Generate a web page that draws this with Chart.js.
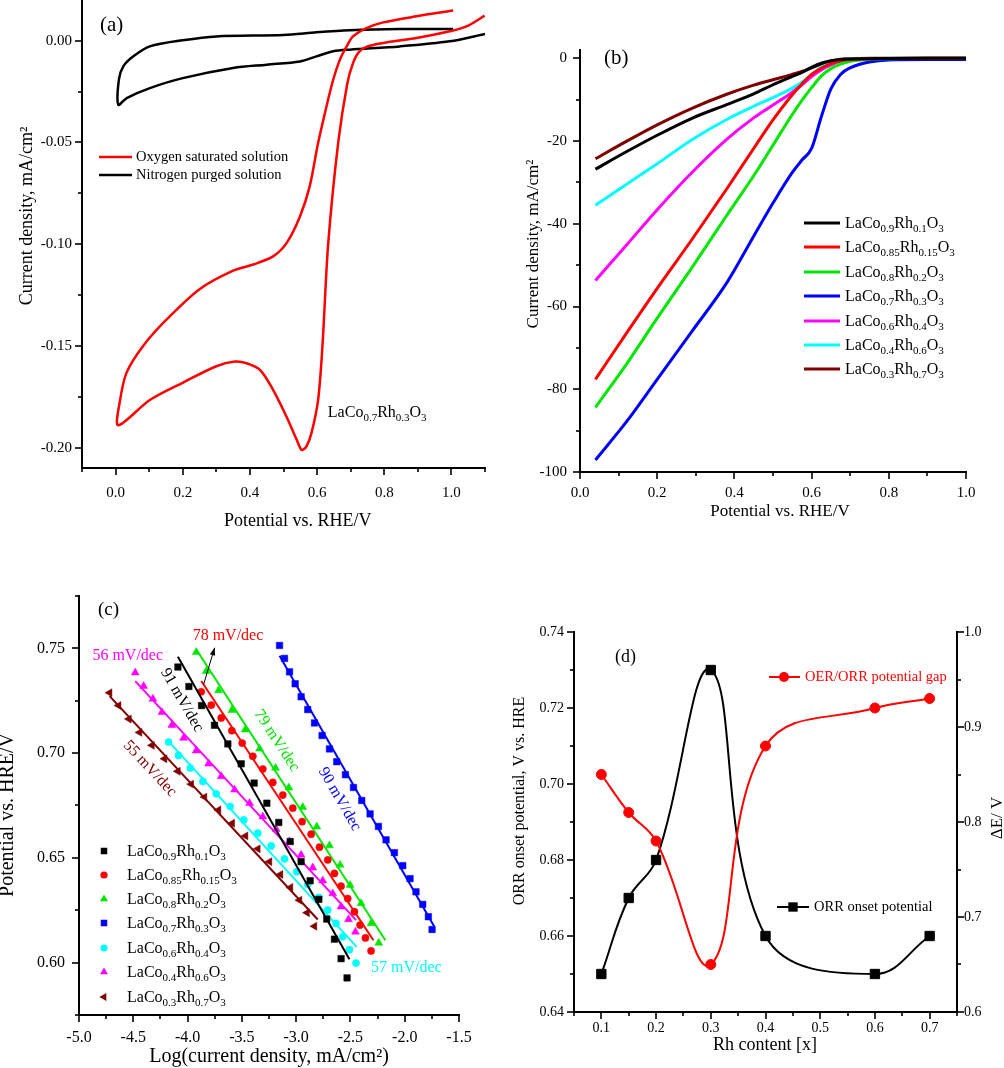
<!DOCTYPE html>
<html><head><meta charset="utf-8">
<script src="https://cdn.jsdelivr.net/npm/chart.js@4.4.1/dist/chart.umd.min.js"></script>
<style>
html,body{margin:0;padding:0;background:#fff;}
#wrap{position:relative;width:1004px;height:1068px;overflow:hidden;background:#fff;}
canvas{position:absolute;}
</style></head><body>
<div id="wrap">
<canvas id="ca" width="502" height="530" style="left:0;top:0"></canvas>
<canvas id="cb" width="502" height="530" style="left:502px;top:0"></canvas>
<canvas id="cc" width="502" height="538" style="left:0;top:530px"></canvas>
<canvas id="cd" width="502" height="538" style="left:502px;top:530px"></canvas>
</div>
<script>
// ---------------- DATA ----------------
// (a) cyclic voltammograms
const aO2Potential = [1.005,0.896,0.797,0.747,0.707,0.688,0.668,0.648,0.628,0.603,0.578,0.549,0.509,0.469,0.41,0.35,0.251,0.152,0.082,0.033,0.013,0.008,
  0.102,0.201,0.30,0.355,0.39,0.43,0.469,0.509,0.539,0.554,0.568,0.583,0.603,0.616,0.633,0.663,0.69,0.707,0.725,0.75,0.797,0.896,0.995,1.045,1.099];
const aO2Current = [0.0148,0.012,0.009,0.0062,0.0021,-0.0028,-0.0093,-0.0192,-0.0323,-0.0503,-0.0716,-0.0864,-0.0995,-0.106,-0.110,-0.113,-0.122,-0.137,-0.150,-0.163,-0.177,-0.189,
  -0.1766,-0.168,-0.160,-0.1577,-0.1585,-0.1618,-0.1716,-0.1848,-0.196,-0.2011,-0.1995,-0.193,-0.1766,-0.15,-0.10,-0.05,-0.021,-0.011,-0.0055,-0.0028,-0.0011,0.0013,0.0046,0.007,0.0123];
const aN2Potential = [1.005,0.846,0.697,0.598,0.5,0.3,0.2,0.102,0.053,0.023,0.010,0.008,0.033,0.102,0.2,0.35,0.45,0.549,0.598,0.648,0.697,0.846,0.995,1.1];
const aN2Current = [0.0057,0.0057,0.0051,0.0041,0.0028,0.0021,0.0002,-0.0028,-0.0077,-0.0126,-0.019,-0.0315,-0.0282,-0.0233,-0.0184,-0.0134,-0.0118,-0.0102,-0.0077,-0.0052,-0.0044,-0.0028,-0.0003,0.0033];
const aLegend = ['Oxygen saturated solution','Nitrogen purged solution'];
const aSample = 'LaCo0.7Rh0.3O3';

// series shared by (b) and (c)
const seriesLabels = ['LaCo0.9Rh0.1O3','LaCo0.85Rh0.15O3','LaCo0.8Rh0.2O3','LaCo0.7Rh0.3O3','LaCo0.6Rh0.4O3','LaCo0.4Rh0.6O3','LaCo0.3Rh0.7O3'];

// (b) LSV curves
const bPotential = [0.04,0.12,0.20,0.29,0.38,0.45,0.50,0.55,0.575,0.60,0.625,0.65,0.675,0.70,0.75,0.80,0.90,1.00];
const bJ09  = [-26.8,-22.6,-18.6,-14.5,-11.2,-8.6,-6.4,-4.4,-3.4,-2.2,-1.2,-0.6,-0.3,-0.15,-0.1,-0.05,0,0];
const bJ085 = [-77.6,-66.5,-55.6,-43.8,-31.6,-21.8,-14.9,-8.8,-6.2,-3.9,-2.4,-1.3,-0.6,-0.3,-0.1,-0.05,0,0];
const bJ08  = [-84.4,-74.0,-62.8,-50.6,-38.0,-28.4,-21.0,-13.6,-10.2,-7.1,-4.3,-2.5,-1.4,-0.7,-0.2,-0.1,0,0];
const bJ07  = [-97.1,-87.9,-77.6,-66.0,-54.3,-43.0,-35.0,-27.6,-24.6,-21.8,-14.2,-7.4,-3.9,-2.3,-0.9,-0.4,-0.3,-0.3];
const bJ06  = [-53.7,-45.2,-36.6,-27.6,-19.6,-14.4,-11.3,-8.2,-6.4,-4.4,-2.8,-1.6,-0.7,-0.3,-0.1,-0.05,0,0];
const bJ04  = [-35.5,-30.5,-25.5,-19.7,-14.8,-11.6,-9.5,-7.2,-5.8,-3.9,-2.2,-1.1,-0.5,-0.2,-0.1,0,0,0];
const bJ03  = [-24.3,-20.1,-16.1,-12.1,-8.7,-6.5,-5.2,-3.9,-3.2,-2.3,-1.4,-0.7,-0.25,-0.1,0,0,0,0];

// (c) Tafel points
const c09X  = [-4.089,-3.988,-3.871,-3.752,-3.629,-3.506,-3.387,-3.270,-3.160,-3.055,-2.954,-2.871,-2.791,-2.718,-2.647,-2.586,-2.531];
const c09Y  = [0.7411,0.7318,0.7227,0.7133,0.7044,0.6949,0.6857,0.6761,0.6669,0.6578,0.6482,0.6391,0.6302,0.6208,0.6112,0.6019,0.5927];
const c085X = [-3.874,-3.782,-3.690,-3.592,-3.497,-3.399,-3.307,-3.215,-3.123,-3.031,-2.945,-2.862,-2.785,-2.709,-2.647,-2.586,-2.525,-2.463,-2.411,-2.362,-2.310];
const c085Y = [0.7293,0.7229,0.7168,0.7107,0.7048,0.6985,0.6924,0.6860,0.6800,0.6737,0.6673,0.6613,0.6551,0.6490,0.6426,0.6365,0.6306,0.6243,0.6179,0.6118,0.6056];
const c08X  = [-3.920,-3.828,-3.715,-3.592,-3.469,-3.337,-3.190,-3.067,-2.939,-2.810,-2.693,-2.595,-2.503,-2.402,-2.310,-2.239];
const c08Y  = [0.7482,0.7391,0.7299,0.7205,0.7112,0.7021,0.6929,0.6835,0.6742,0.6649,0.6559,0.6466,0.6370,0.6283,0.6187,0.6094];
const c07X  = [-3.153,-3.107,-3.061,-3.009,-2.954,-2.893,-2.831,-2.761,-2.693,-2.626,-2.546,-2.472,-2.396,-2.319,-2.242,-2.172,-2.095,-2.018,-1.951,-1.896,-1.834,-1.782,-1.748];
const c07Y  = [0.7514,0.7452,0.7388,0.7331,0.7269,0.7208,0.7144,0.7084,0.7020,0.6959,0.6897,0.6836,0.6774,0.6710,0.6650,0.6586,0.6525,0.6463,0.6401,0.6338,0.6278,0.6219,0.6158];
const c06X  = [-4.175,-4.083,-3.975,-3.859,-3.736,-3.607,-3.482,-3.353,-3.230,-3.107,-2.994,-2.893,-2.791,-2.709,-2.632,-2.571,-2.509,-2.448];
const c06Y  = [0.7053,0.6989,0.6929,0.6865,0.6806,0.6745,0.6681,0.6618,0.6557,0.6495,0.6434,0.6373,0.6311,0.6251,0.6187,0.6123,0.6062,0.5998];
const c04X  = [-4.482,-4.405,-4.319,-4.236,-4.144,-4.037,-3.920,-3.807,-3.690,-3.567,-3.429,-3.307,-3.184,-3.061,-2.954,-2.847,-2.755,-2.663,-2.586,-2.518,-2.454];
const c04Y  = [0.7384,0.7320,0.7259,0.7195,0.7133,0.7072,0.7012,0.6949,0.6889,0.6825,0.6761,0.6697,0.6637,0.6578,0.6514,0.6453,0.6391,0.6330,0.6267,0.6206,0.6147];
const c03X  = [-4.718,-4.635,-4.540,-4.442,-4.328,-4.212,-4.089,-3.966,-3.844,-3.715,-3.589,-3.466,-3.353,-3.245,-3.144,-3.052,-2.969,-2.899,-2.831];
const c03Y  = [0.7288,0.7227,0.7163,0.7099,0.7037,0.6973,0.6913,0.6852,0.6790,0.6729,0.6665,0.6605,0.6543,0.6482,0.6421,0.6359,0.6298,0.6238,0.6174];
// (c) linear fits: [start, end]
const cFitX = [[-4.089,-2.509],[-3.874,-2.288],[-3.920,-2.178],[-3.153,-1.727],[-4.175,-2.442],[-4.482,-2.448],[-4.718,-2.801]];
const cFitY = [[0.7460,0.6016],[0.7344,0.6107],[0.7495,0.6107],[0.7465,0.6171],[0.7056,0.6075],[0.7344,0.6203],[0.7272,0.6206]];
const cSlopes = ['91 mV/dec','78 mV/dec','79 mV/dec','90 mV/dec','57 mV/dec','56 mV/dec','55 mV/dec'];

// (d)
const dRh = [0.1,0.15,0.2,0.3,0.4,0.6,0.7];
const dOnset = [0.65,0.67,0.68,0.73,0.66,0.65,0.66];
const dGap = [0.85,0.81,0.78,0.65,0.88,0.92,0.93];
const dLegend = ['OER/ORR potential gap','ORR onset potential'];

// ---------------- STYLES ----------------
const SERIF = '"Liberation Serif", "Times New Roman", serif';
const bColors = ['#000000','#ff0000','#00e600','#0000ff','#ff00ff','#00ffff','#800000'];
const cColors = ['#000000','#ff0000','#00e600','#0000ff','#00ffff','#ff00ff','#800000'];
const cStyles = [['rect',4.6,0],['circle',3.6,0],['triangle',4.6,0],['rect',4.6,0],['circle',3.6,0],['triangle',4.6,0],['triangle',4.6,-90]];

Chart.defaults.font.family = SERIF;
Chart.defaults.color = '#000';

const isMult = (v, m) => Math.abs(v / m - Math.round(v / m)) < 1e-6;
const zip = (xs, ys) => xs.map((x, i) => ({x: x, y: ys[i]}));

function axis(o) {
  return {
    type: 'linear', position: o.pos, min: o.min, max: o.max,
    grid: {display: false, drawTicks: false},
    border: {display: true, color: '#000', width: 2},
    ticks: {stepSize: o.step, autoSkip: false, includeBounds: false, maxRotation: 0, minRotation: 0,
      padding: o.pad, color: '#000', font: {size: o.fs, family: SERIF},
      callback: v => isMult(v, o.major) ? (o.dec === 0 ? String(Math.round(v)) : v.toFixed(o.dec)) : ''},
    title: {display: false},
    afterFit: s => {
      if (s.isHorizontal()) { s.height = o.size; s.paddingLeft = 0; s.paddingRight = 0; }
      else { s.width = o.size; s.paddingTop = 0; s.paddingBottom = 0; }
    }
  };
}

const outTicks = {
  id: 'outTicks',
  afterDraw(chart) {
    const ctx = chart.ctx, a = chart.chartArea;
    ctx.save(); ctx.strokeStyle = '#000'; ctx.lineWidth = 1.6;
    Object.values(chart.scales).forEach(s => {
      s.ticks.forEach(t => {
        const p = Math.round(s.getPixelForValue(t.value));
        const len = (t.label !== '' && t.label != null) ? 7 : 4;
        ctx.beginPath();
        if (s.position === 'left') { ctx.moveTo(a.left, p); ctx.lineTo(a.left - len, p); }
        else if (s.position === 'right') { ctx.moveTo(a.right, p); ctx.lineTo(a.right + len, p); }
        else { ctx.moveTo(p, a.bottom); ctx.lineTo(p, a.bottom + len); }
        ctx.stroke();
      });
    });
    ctx.restore();
  }
};

function txt(ctx, s, x, y, o) {
  o = o || {};
  ctx.save();
  ctx.font = (o.size || 16) + 'px ' + SERIF;
  ctx.fillStyle = o.color || '#000';
  ctx.textAlign = o.align || 'left';
  ctx.textBaseline = o.base || 'middle';
  ctx.translate(x, y);
  if (o.rot) ctx.rotate(o.rot * Math.PI / 180);
  ctx.fillText(s, 0, 0);
  ctx.restore();
}
function formula(ctx, s, x, y, size, color, align) {
  const parts = [];
  s.replace(/([A-Za-z]+)([0-9.]*)/g, (m, a, b) => { parts.push([a, 0]); if (b) parts.push([b, 1]); return m; });
  const fMain = size + 'px ' + SERIF, fSub = Math.round(size * 0.66) + 'px ' + SERIF;
  ctx.save();
  ctx.fillStyle = color; ctx.textBaseline = 'alphabetic'; ctx.textAlign = 'left';
  let w = 0;
  parts.forEach(p => { ctx.font = p[1] ? fSub : fMain; w += ctx.measureText(p[0]).width; });
  let cx = align === 'center' ? x - w / 2 : x;
  const base = y + size * 0.33;
  parts.forEach(p => { ctx.font = p[1] ? fSub : fMain; ctx.fillText(p[0], cx, p[1] ? base + size * 0.24 : base); cx += ctx.measureText(p[0]).width; });
  ctx.restore();
}
function marker(ctx, style, x, y, r, color, rot) {
  ctx.save(); ctx.fillStyle = color; ctx.beginPath();
  if (style === 'rect') { const h = r * Math.SQRT1_2; ctx.rect(x - h, y - h, 2 * h, 2 * h); }
  else if (style === 'circle') ctx.arc(x, y, r, 0, 2 * Math.PI);
  else { let a = (rot || 0) * Math.PI / 180; for (let i = 0; i < 3; i++) { const px = x + Math.sin(a) * r, py = y - Math.cos(a) * r; if (i) ctx.lineTo(px, py); else ctx.moveTo(px, py); a += 2 * Math.PI / 3; } ctx.closePath(); }
  ctx.fill(); ctx.restore();
}
function hline(ctx, x0, x1, y, color, w) {
  ctx.save(); ctx.strokeStyle = color; ctx.lineWidth = w; ctx.beginPath(); ctx.moveTo(x0, y); ctx.lineTo(x1, y); ctx.stroke(); ctx.restore();
}
const baseOpts = (pad) => ({
  responsive: false, animation: false, events: [], devicePixelRatio: 1,
  layout: {padding: pad},
  plugins: {legend: {display: false}, tooltip: {enabled: false}}
});

// ---------------- PANEL (a) ----------------
new Chart(document.getElementById('ca'), {
  type: 'scatter',
  data: {datasets: [
    {data: zip(aO2Potential, aO2Current), showLine: true, borderColor: '#ff0000', borderWidth: 2.5, pointRadius: 0, tension: 0.3},
    {data: zip(aN2Potential, aN2Current), showLine: true, borderColor: '#000000', borderWidth: 2.5, pointRadius: 0, tension: 0.3}
  ]},
  options: Object.assign(baseOpts({left: 0, right: 17, top: 0, bottom: 0}), {
    scales: {
      x: axis({pos: 'bottom', min: -0.1, max: 1.1, step: 0.1, major: 0.2, dec: 1, pad: 16, fs: 15, size: 62}),
      y: axis({pos: 'left', min: -0.21, max: 0.02, step: 0.025, major: 0.05, dec: 2, pad: 10, fs: 15, size: 82})
    }
  }),
  plugins: [outTicks, {id: 'ovA', afterDraw(chart) {
    const ctx = chart.ctx, sx = chart.scales.x, sy = chart.scales.y;
    txt(ctx, '(a)', 100, 25, {size: 21});
    hline(ctx, 99, 132, 157, '#ff0000', 2.5);
    hline(ctx, 99, 132, 175, '#000000', 2.5);
    txt(ctx, aLegend[0], 136, 157, {size: 14.5});
    txt(ctx, aLegend[1], 136, 175, {size: 14.5});
    formula(ctx, aSample, sx.getPixelForValue(0.632), sy.getPixelForValue(-0.1825), 16, '#000', 'left');
    txt(ctx, 'Current density, mA/cm\u00b2', 27, 216, {size: 18, align: 'center', rot: -90});
    txt(ctx, 'Potential vs. RHE/V', 297.7, 521, {size: 18, align: 'center'});
  }}]
});

// ---------------- PANEL (b) ----------------
const bSeries = [bJ09, bJ085, bJ08, bJ07, bJ06, bJ04, bJ03];
new Chart(document.getElementById('cb'), {
  type: 'scatter',
  data: {datasets: bSeries.map((s, i) => ({
    data: zip(bPotential, s), showLine: true, borderColor: bColors[i], borderWidth: 3, pointRadius: 0,
    cubicInterpolationMode: 'monotone'
  }))},
  options: Object.assign(baseOpts({left: 0, right: 38, top: 50, bottom: 0}), {
    scales: {
      x: axis({pos: 'bottom', min: 0, max: 1, step: 0.1, major: 0.2, dec: 1, pad: 12, fs: 15, size: 58}),
      y: axis({pos: 'left', min: -100, max: 2, step: 10, major: 20, dec: 0, pad: 13, fs: 15, size: 78})
    }
  }),
  plugins: [outTicks, {id: 'ovB', afterDraw(chart) {
    const ctx = chart.ctx;
    txt(ctx, '(b)', 102, 58, {size: 21});
    const rows = [223, 247, 272, 296, 321, 345, 369];
    seriesLabels.forEach((l, i) => {
      hline(ctx, 302, 338, rows[i], bColors[i], 3);
      formula(ctx, l, 343, rows[i], 16, '#000', 'left');
    });
    txt(ctx, 'Current density, mA/cm\u00b2', 31.5, 244, {size: 17, align: 'center', rot: -90});
    txt(ctx, 'Potential vs. RHE/V', 278, 512, {size: 17, align: 'center'});
  }}]
});

// ---------------- PANEL (c) ----------------
const cPts = [[c09X, c09Y], [c085X, c085Y], [c08X, c08Y], [c07X, c07Y], [c06X, c06Y], [c04X, c04Y], [c03X, c03Y]];
const cDatasets = [];
cPts.forEach((p, i) => {
  cDatasets.push({data: zip(p[0], p[1]), showLine: false, pointStyle: cStyles[i][0], pointRadius: cStyles[i][1],
    pointRotation: cStyles[i][2], backgroundColor: cColors[i], borderColor: cColors[i], pointBorderWidth: 0.5});
  cDatasets.push({data: zip(cFitX[i], cFitY[i]), showLine: true, borderColor: cColors[i], borderWidth: 2, pointRadius: 0});
});
new Chart(document.getElementById('cc'), {
  type: 'scatter',
  data: {datasets: cDatasets},
  options: Object.assign(baseOpts({left: 0, right: 43, top: 66, bottom: 0}), {
    scales: {
      x: axis({pos: 'bottom', min: -5, max: -1.5, step: 0.25, major: 0.5, dec: 1, pad: 13, fs: 16, size: 53}),
      y: axis({pos: 'left', min: 0.575, max: 0.775, step: 0.025, major: 0.05, dec: 2, pad: 14, fs: 16, size: 79})
    }
  }),
  plugins: [outTicks, {id: 'ovC', afterDraw(chart) {
    const ctx = chart.ctx, sx = chart.scales.x, sy = chart.scales.y;
    const X = v => sx.getPixelForValue(v), Y = v => sy.getPixelForValue(v);
    txt(ctx, '(c)', 98, 80, {size: 19});
    const rows = [321, 345, 369, 393, 418, 442, 467];
    seriesLabels.forEach((l, i) => {
      marker(ctx, cStyles[i][0], 104, rows[i], cStyles[i][1], cColors[i], cStyles[i][2]);
      formula(ctx, l, 127, rows[i], 16, '#000', 'left');
    });
    // slope annotations (anchor in data units)
    const ann = [
      [0, -4.052, 0.7253, 60], [1, -3.628, 0.7559, 0], [2, -3.18, 0.706, 57], [3, -2.60, 0.678, 60],
      [4, -1.985, 0.5973, 0], [5, -4.551, 0.7466, 0], [6, -4.347, 0.6926, 47]
    ];
    ann.forEach(a => txt(ctx, cSlopes[a[0]], X(a[1]), Y(a[2]), {size: 16, color: cColors[a[0]], align: 'center', rot: a[3]}));
    // arrow
    const x0 = X(-3.852), y0 = Y(0.7328), x1 = X(-3.751), y1 = Y(0.7503);
    ctx.save(); ctx.strokeStyle = '#000'; ctx.fillStyle = '#000'; ctx.lineWidth = 1;
    ctx.beginPath(); ctx.moveTo(x0, y0); ctx.lineTo(x1, y1); ctx.stroke();
    const ang = Math.atan2(y1 - y0, x1 - x0);
    ctx.beginPath(); ctx.moveTo(x1, y1);
    ctx.lineTo(x1 - 8 * Math.cos(ang - 0.35), y1 - 8 * Math.sin(ang - 0.35));
    ctx.lineTo(x1 - 8 * Math.cos(ang + 0.35), y1 - 8 * Math.sin(ang + 0.35));
    ctx.closePath(); ctx.fill(); ctx.restore();
    txt(ctx, 'Potential vs. HRE/V', 8, 285, {size: 20, align: 'center', rot: -90});
    txt(ctx, 'Log(current density, mA/cm\u00b2)', 269, 527, {size: 20, align: 'center'});
  }}]
});

// ---------------- PANEL (d) ----------------
new Chart(document.getElementById('cd'), {
  type: 'scatter',
  data: {datasets: [
    {data: zip(dRh, dGap), yAxisID: 'y2', showLine: true, borderColor: '#ff0000', backgroundColor: '#ff0000', borderWidth: 2,
      pointStyle: 'circle', pointRadius: 5, pointBorderWidth: 1, tension: 0.4},
    {data: zip(dRh, dOnset), yAxisID: 'y', showLine: true, borderColor: '#000000', backgroundColor: '#000000', borderWidth: 2,
      pointStyle: 'rect', pointRadius: 6.6, pointBorderWidth: 1, tension: 0.4}
  ]},
  options: Object.assign(baseOpts({left: 0, right: 0, top: 102, bottom: 0}), {
    scales: {
      x: axis({pos: 'bottom', min: 0.05, max: 0.75, step: 0.05, major: 0.1, dec: 1, pad: 8, fs: 14, size: 56}),
      y: axis({pos: 'left', min: 0.64, max: 0.74, step: 0.01, major: 0.02, dec: 2, pad: 10, fs: 14, size: 72}),
      y2: axis({pos: 'right', min: 0.6, max: 1.0, step: 0.05, major: 0.1, dec: 1, pad: 7, fs: 14, size: 47})
    }
  }),
  plugins: [outTicks, {id: 'ovD', afterDraw(chart) {
    const ctx = chart.ctx;
    txt(ctx, '(d)', 113, 127, {size: 18});
    hline(ctx, 267, 298, 147, '#ff0000', 2);
    marker(ctx, 'circle', 282, 147, 5, '#ff0000');
    txt(ctx, dLegend[0], 303, 147, {size: 14.5, color: '#ff0000'});
    hline(ctx, 275, 307, 377, '#000000', 2);
    marker(ctx, 'rect', 291, 377, 6.6, '#000000');
    txt(ctx, dLegend[1], 312, 377, {size: 14.5});
    txt(ctx, 'ORR onset potential, V vs. HRE', 18, 271, {size: 16, align: 'center', rot: -90});
    txt(ctx, '\u0394E/ V', 496, 288, {size: 17, align: 'center', rot: -90});
    txt(ctx, 'Rh content [x]', 263, 515, {size: 18, align: 'center'});
  }}]
});
</script>
</body></html>
